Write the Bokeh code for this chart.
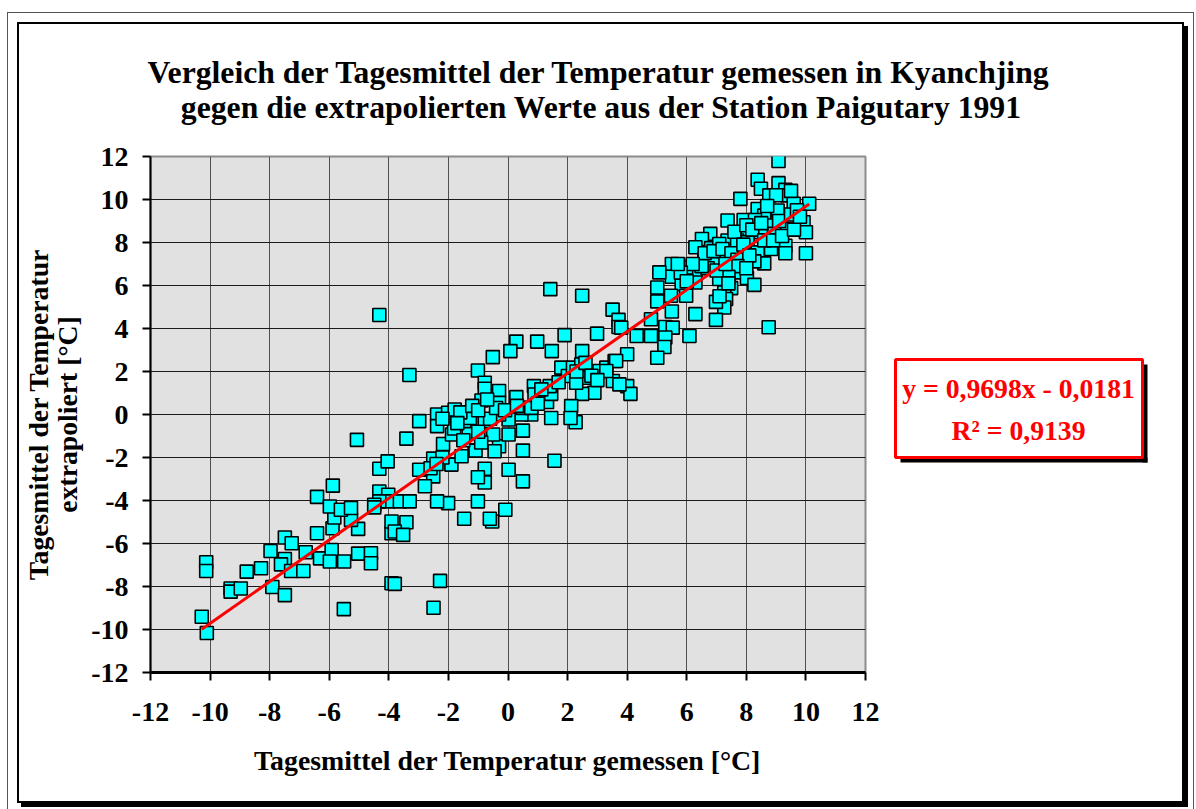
from bokeh.plotting import figure
from bokeh.layouts import column, row
from bokeh.models import Range1d, ColumnDataSource
from bokeh.core.properties import value
from bokeh.embed import file_html
from bokeh.resources import INLINE

# ---------------- data ----------------
title_lines = ["Vergleich der Tagesmittel der Temperatur  gemessen in Kyanchjing",
               "gegen die extrapolierten Werte aus der Station Paigutary 1991"]
x_label = "Tagesmittel der Temperatur gemessen [°C]"
y_label_lines = ["Tagesmittel der Temperatur", "extrapoliert [°C]"]
tick_values = [-12, -10, -8, -6, -4, -2, 0, 2, 4, 6, 8, 10, 12]
fit_slope = 0.9698
fit_intercept = -0.0181
fit_text = "y = 0,9698x - 0,0181"
r2_text = "R² = 0,9139"

gemessen = [
    -10.28, -10.11, -10.13, -10.13, -9.31, -9.31, -8.97, -8.77, -8.29, -7.91,
    -7.49, -7.97, -7.49, -7.26, -7.49, -7.62, -7.28, -6.87, -6.79, -6.31,
    -6.41, -6.41, -5.92, -5.98, -5.50, -5.03, -4.60, -4.60, -5.51, -5.89,
    -5.03, -5.83, -5.27, -5.98, -5.61, -5.27, -5.88, -4.32, -4.02, -4.02,
    -4.32, -4.49, -4.49, -4.32, -4.04, -5.07, -4.32, -3.91, -3.91, -3.91,
    1.42, 2.49, 3.51, 3.71, 3.71, 2.99, 1.90, 0.98, 0.28, 0.08,
    1.47, -0.51, -1.01, -3.31, 2.49, 1.79, 2.01, 2.18, 2.46, 2.68,
    3.07, 3.30, 3.58, 3.52, 2.90, 2.49, 2.29, 2.12, 2.27, 2.10,
    1.56, 1.45, 1.31, 1.45, 0.87, 1.40, 0.78, 0.45, 0.28, 0.50,
    0.50, 0.50, 0.02, 0.02, -0.30, -0.30, -0.30, -0.30, -0.45, -0.50,
    -0.78, -0.78, -0.89, -1.01, -0.78, -1.12, -0.78, -0.78, -1.01, -1.01,
    -0.09, -0.53, -0.61, -1.47, -2.01, -2.38, -1.90, -2.51, -2.98, -2.79,
    -2.51, -2.18, -1.88, -1.81, -1.56, -1.32, -1.09, -2.38, -2.38, -2.01,
    -1.79, -1.47, -1.28, -2.98, -3.41, -3.63, -3.30, -3.41, -3.80, -3.52,
    -3.80, -2.28, -2.50, 0.02, 0.50, 0.78, 0.89, 1.12,
    9.08, 8.38, 8.49, 9.08, 9.31, 8.77, 9.39, 7.80, 10.11, 9.59,
    8.38, 9.05, 8.60, 7.37, 7.91, 8.29, 8.88, 9.92, 10.00, 9.33,
    8.49, 8.04, 8.94, 7.37, 6.79, 6.51, 6.29, 6.82, 7.09, 7.69,
    8.04, 8.83, 9.31, 9.31, 10.00, 8.38, 8.60, 8.27, 7.91, 7.26,
    6.59, 6.93, 7.82, 8.02, 8.27, 7.09, 7.49, 7.26, 7.32, 7.26,
    6.98, 6.98, 6.29, 6.29, 5.98, 5.50, 5.50, 5.08, 5.83, 5.98,
    5.47, 5.01, 5.01, 5.50, 6.29, 4.80, 5.28, 5.53, 6.09, 4.80,
    4.32, 5.28, 5.25, 5.01, 8.75, 3.80, 4.00, 3.63, 3.30, 4.00,
    4.11, 3.74,
    6.60, 6.90, 7.20, 7.50, 7.70, 7.60, 8.00, 8.20, 7.90, 8.10,
    8.60, 8.90, 9.10, 9.50, 9.70, 9.00, 8.70, 7.70, 7.40, 6.70,
    6.50, 6.20, 5.80, 5.70, 6.00, 7.00, 7.30, 7.10, 7.40, 8.00,
    8.50, 9.20, 9.60, 9.80, 9.50,
    -1.60, -1.20, -0.60, -0.40, -0.10, -1.70, -2.20, -1.00, -0.70, 0.30,
    1.00, 1.70, 2.30, 2.60, 2.80, 3.00, -2.60, -2.20, -2.40, -1.50,
    -0.90, -1.00,
]
extrapoliert = [
    -9.41, -10.16, -6.87, -7.28, -8.09, -8.24, -8.09, -7.31, -7.15, -8.02,
    -8.40, -6.35, -5.72, -5.99, -6.72, -6.97, -7.28, -7.28, -6.41, -6.69,
    -5.52, -3.83, -6.30, -6.84, -6.84, -6.47, -6.45, -6.92, -9.05, -5.29,
    -5.32, -4.79, -4.90, -4.28, -4.43, -4.35, -3.31, -3.58, -3.73, -4.04,
    -4.04, -4.20, -4.32, -2.52, -2.18, -1.18, 4.63, -5.52, -4.98, -7.85,
    5.83, 5.52, 4.88, 4.40, 4.07, 3.76, 3.69, 3.39, 3.39, 2.95,
    2.95, 2.67, 2.05, 1.84, 2.95, 2.18, 1.79, 2.18, 2.33, 1.71,
    2.02, 2.18, 2.49, 1.56, 1.01, 0.96, 1.48, 0.39, -0.36, -0.16,
    -2.15, -0.16, 0.58, 0.96, 1.32, 1.32, 0.00, 0.00, 0.81, -0.75,
    -1.68, -3.11, -2.57, -0.23, 1.09, 0.54, 0.00, -1.48, -1.71, -0.93,
    1.48, 1.20, 0.65, -0.23, -0.31, -1.68, -2.52, -3.16, -2.92, -4.04,
    -4.43, -4.98, -4.85, -4.85, -4.12, -4.04, -2.33, -2.88, -2.57, -3.34,
    -2.05, -1.37, -0.93, -0.65, -1.94, -0.86, -1.68, 0.00, -0.54, 0.08,
    0.23, -0.31, -0.16, -0.31, -1.12, -4.04, -4.04, -5.01, -5.44, -5.60,
    -7.88, -7.74, -8.99, -0.93, 0.31, 0.31, 0.93, 1.17,
    11.79, 10.92, 10.50, 10.76, 10.45, 10.19, 10.19, 10.03, 9.80, 9.80,
    9.56, 9.49, 9.25, 9.02, 9.05, 9.05, 8.79, 8.94, 8.48, 8.63,
    8.48, 8.32, 8.40, 8.09, 8.40, 8.16, 7.78, 7.74, 7.93, 8.09,
    8.01, 7.70, 7.85, 7.50, 7.50, 7.54, 7.03, 7.12, 7.47, 7.28,
    7.23, 7.00, 6.61, 6.35, 6.03, 6.30, 5.88, 5.68, 5.37, 4.98,
    5.24, 4.40, 6.61, 6.14, 6.84, 7.00, 6.41, 6.61, 6.07, 5.52,
    5.52, 5.91, 5.26, 4.79, 4.67, 4.43, 4.07, 4.04, 3.65, 3.65,
    3.65, 3.58, 3.14, 2.64, 4.06, 4.04, 2.80, 2.49, 2.02, 1.32,
    0.96, 1.40,
    7.50, 7.60, 7.70, 7.50, 7.20, 8.50, 8.80, 8.60, 7.90, 7.40,
    8.10, 8.10, 9.00, 9.30, 9.50, 10.20, 9.70, 6.90, 6.40, 6.80,
    6.90, 7.00, 6.60, 7.00, 6.20, 6.70, 7.00, 5.50, 6.10, 6.80,
    8.90, 8.30, 8.60, 9.20, 10.40,
    0.10, 0.40, -0.20, 0.30, 0.20, -0.40, -0.20, 0.20, 0.70, 0.40,
    0.50, 1.50, 2.00, 2.40, 1.80, 1.60, -2.50, -2.00, -2.30, -1.20,
    -1.30, -0.80,
]

# ---------------- geometry (page pixels) ----------------
FONT = "Liberation Serif"
OX, OY = 19, 24                 # top-left of the chart block on the page
CW, CH = 1162, 777              # chart block size
PL, PT, PR, PB = 149, 156, 864, 672   # plot area on the page
TOP_PAD = 16                    # room above the plot area inside the main figure
TH = PT - OY - TOP_PAD          # height of the title strip
ML = PL - OX                    # left border of the main figure
MR = 20
MB = OY + CH - PB               # bottom border of the main figure
MW = ML + (PR - PL) + MR
MH = TOP_PAD + (PB - PT) + MB
EW = CW - MW                    # width of the equation strip
EX = OX + MW                    # page x of the equation strip

common = dict(output_backend="svg", toolbar_location=None,
              border_fill_color="white", background_fill_color="white")

# ---------- title strip (page pixel coordinates) ----------
tf = figure(width=CW, height=TH, x_range=Range1d(OX, OX + CW), y_range=Range1d(OY + TH, OY),
            min_border=0, outline_line_color=None,
            x_axis_type=None, y_axis_type=None, **common)
tf.grid.visible = False
tf.text(x=[603, 601], y=[72, 107], text=title_lines,
        text_font=value(FONT), text_font_style="bold", text_font_size=value("31.7px"),
        text_color="black", text_align="center", text_baseline="middle")

# ---------- main scatter plot ----------
lo, hi = tick_values[0], tick_values[-1]
p = figure(frame_width=PR - PL, frame_height=PB - PT,
           min_border_left=ML, min_border_right=MR, min_border_top=TOP_PAD,
           min_border_bottom=MB,
           x_range=Range1d(lo, hi), y_range=Range1d(lo, hi),
           outline_line_color="#8C8C8C", outline_line_width=2, **common)
p.background_fill_color = "#E1E1E1"

for ax in (p.xaxis, p.yaxis):
    ax.ticker = tick_values
    ax.major_label_overrides = {t: str(t) for t in tick_values}
    ax.major_label_text_font = FONT
    ax.major_label_text_font_style = "bold"
    ax.major_label_text_font_size = "28px"
    ax.major_label_text_color = "black"
    ax.major_tick_in = 0
    ax.major_tick_out = 8
    ax.major_tick_line_width = 2
    ax.minor_tick_line_color = None
    ax.axis_line_color = "black"
    ax.axis_label_text_font = FONT
    ax.axis_label_text_font_style = "bold"
    ax.axis_label_text_color = "black"
p.xaxis.axis_line_width = 3
p.yaxis.axis_line_width = 2
p.xaxis.major_label_standoff = 22
p.yaxis.major_label_standoff = 14
p.xaxis.axis_label = x_label
p.xaxis.axis_label_text_font_size = "27.8px"
p.xaxis.axis_label_standoff = 21
p.yaxis.axis_label = "\n".join(y_label_lines)
p.yaxis.axis_label_text_font_size = "27.7px"
p.yaxis.axis_label_standoff = 5
p.yaxis.axis_label_text_line_height = 0.95

p.xgrid.grid_line_color = "#505050"
p.ygrid.grid_line_color = "#1A1A1A"
p.grid.grid_line_width = 1

src = ColumnDataSource(dict(x=gemessen, y=extrapoliert))
p.scatter("x", "y", source=src, marker="square", size=13,
          fill_color="#00FFFF", line_color="black", line_width=1.6)

x_fit = [min(gemessen), max(gemessen)]
y_fit = [fit_slope * v + fit_intercept for v in x_fit]
p.line(x_fit, y_fit, line_color="#FF0000", line_width=3)

# ---------- equation strip (frame aligned with the plot area, page pixel coordinates) ----------
ef = figure(width=EW, height=MH, x_range=Range1d(EX, EX + EW), y_range=Range1d(PB, PT),
            min_border_left=0, min_border_right=0, min_border_top=TOP_PAD,
            min_border_bottom=MB, outline_line_color=None,
            x_axis_type=None, y_axis_type=None, **common)
ef.grid.visible = False
bl, bt, br, bb = 894, 359, 1141, 457
ef.quad(left=[br, bl + 5], right=[br + 5, br + 5], top=[bt + 5, bb],
        bottom=[bb + 5, bb + 5], fill_color="black", line_color=None)
ef.quad(left=[bl], right=[br], top=[bt], bottom=[bb],
        fill_color="white", line_color="#FF0000", line_width=3)
ef.text(x=[1017, 1017], y=[388, 430], text=[fit_text, r2_text],
        text_font=value(FONT), text_font_style="bold", text_font_size=value("27.7px"),
        text_color="#FF0000", text_align="center", text_baseline="middle")

layout = column(tf, row(p, ef),
                styles={"margin-left": f"{OX}px", "margin-top": f"{OY}px",
                        "box-shadow": "0 0 0 2px black, 4px 4px 0 2px black",
                        "outline": "1px solid #555555", "outline-offset": "11px"})

open("out.html", "w").write(file_html(layout, INLINE))
